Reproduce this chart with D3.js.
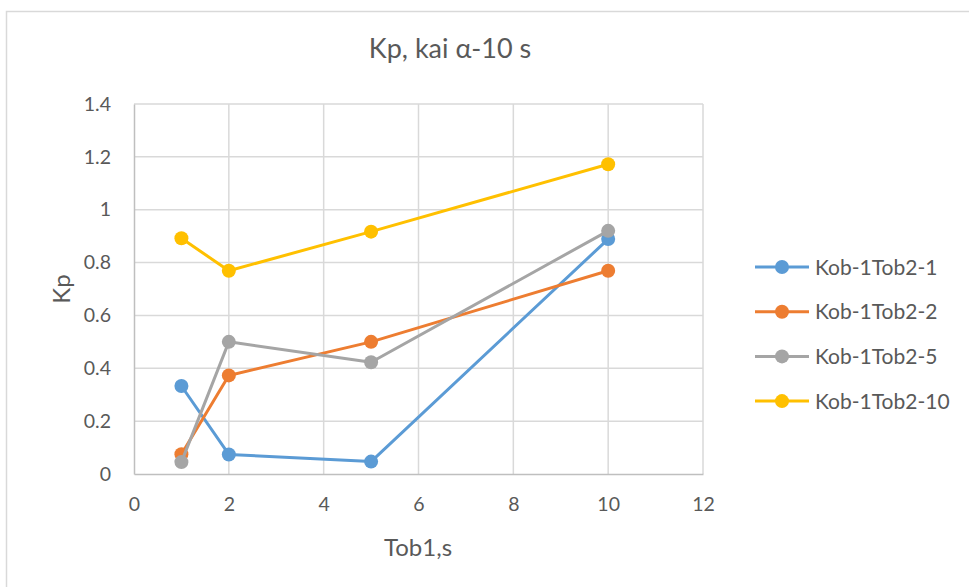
<!DOCTYPE html>
<html>
<head>
<meta charset="utf-8">
<script src="https://cdn.jsdelivr.net/npm/d3@7/dist/d3.min.js"></script>
<style>
  html, body { margin: 0; padding: 0; background: #fff; }
  svg { display: block; font-family: "Lato", "Liberation Sans", sans-serif; }
</style>
</head>
<body>
<svg id="chart" width="969" height="587"></svg>
<script>
// Sampling times (Tob1, s)
const xValues = [1, 2, 5, 10];

// Series names and Kp values at each sampling time
const seriesNames = ["Kob-1Tob2-1", "Kob-1Tob2-2", "Kob-1Tob2-5", "Kob-1Tob2-10"];
const kob1Tob2_1  = [0.333, 0.074, 0.047, 0.889];
const kob1Tob2_2  = [0.075, 0.373, 0.5, 0.769];
const kob1Tob2_5  = [0.045, 0.5, 0.423, 0.92];
const kob1Tob2_10 = [0.892, 0.769, 0.917, 1.172];
const seriesColors = ["#5B9BD5", "#ED7D31", "#A5A5A5", "#FFC000"];

// Axis ticks
const xTicks = [0, 2, 4, 6, 8, 10, 12];
const yTicks = [0, 0.2, 0.4, 0.6, 0.8, 1, 1.2, 1.4];

const series = [kob1Tob2_1, kob1Tob2_2, kob1Tob2_5, kob1Tob2_10].map((vals, i) => ({
  name: seriesNames[i],
  color: seriesColors[i],
  points: vals.map((v, j) => ({ x: xValues[j], y: v }))
}));

const svg = d3.select("#chart");
const textColor = "#595959";

// Outer chart frame
svg.append("rect")
  .attr("x", 6.5).attr("y", 11.5)
  .attr("width", 1000).attr("height", 1000)
  .attr("fill", "#fff")
  .attr("stroke", "#d9d9d9")
  .attr("stroke-width", 1.5);

const plot = { left: 134, right: 703, top: 104, bottom: 474 };

const x = d3.scaleLinear().domain([0, 12]).range([plot.left, plot.right]);
const y = d3.scaleLinear().domain([0, 1.4]).range([plot.bottom, plot.top]);

// Gridlines
const grid = svg.append("g");
grid.selectAll("line.h").data(yTicks.filter(d => d > 0)).join("line")
  .attr("x1", plot.left).attr("x2", plot.right)
  .attr("y1", d => y(d)).attr("y2", d => y(d))
  .attr("stroke", "#d9d9d9").attr("stroke-width", 1.5);
grid.selectAll("line.v").data(xTicks.filter(d => d > 0)).join("line")
  .attr("y1", plot.top).attr("y2", plot.bottom)
  .attr("x1", d => x(d)).attr("x2", d => x(d))
  .attr("stroke", "#d9d9d9").attr("stroke-width", 1.5);

// Axes
const xAxis = svg.append("g")
  .attr("transform", `translate(0,${plot.bottom})`)
  .call(d3.axisBottom(x).tickValues(xTicks).tickSize(0).tickPadding(23).tickFormat(d3.format("d")));
const yAxis = svg.append("g")
  .attr("transform", `translate(${plot.left},0)`)
  .call(d3.axisLeft(y).tickValues(yTicks).tickSize(0).tickPadding(23).tickFormat(d => d3.format("")(+d.toFixed(1))));
[xAxis, yAxis].forEach(a => {
  a.select(".domain").attr("stroke", "#bfbfbf").attr("stroke-width", 1.5);
  a.selectAll("text").attr("fill", textColor).attr("font-size", 19.5)
    .attr("font-family", "Lato, 'Liberation Sans', sans-serif");
});

// Series lines and markers
const line = d3.line().x(d => x(d.x)).y(d => y(d.y));
const sg = svg.append("g").selectAll("g").data(series).join("g");
sg.append("path")
  .attr("d", d => line(d.points))
  .attr("fill", "none")
  .attr("stroke", d => d.color)
  .attr("stroke-width", 3)
  .attr("stroke-linejoin", "round");
sg.selectAll("circle").data(d => d.points.map(p => ({ ...p, color: d.color }))).join("circle")
  .attr("cx", d => x(d.x)).attr("cy", d => y(d.y))
  .attr("r", 7)
  .attr("fill", d => d.color);

// Title
svg.append("text")
  .attr("x", 450).attr("y", 58)
  .attr("text-anchor", "middle")
  .attr("fill", textColor)
  .attr("font-size", 27)
  .text("Kp, kai α-10 s");

// Axis titles
svg.append("text")
  .attr("x", 418).attr("y", 556)
  .attr("text-anchor", "middle")
  .attr("fill", textColor)
  .attr("font-size", 24)
  .text("Tob1,s");
svg.append("text")
  .attr("transform", `translate(70,289) rotate(-90)`)
  .attr("text-anchor", "middle")
  .attr("fill", textColor)
  .attr("font-size", 24)
  .text("Kp");

// Legend
const legend = svg.append("g").selectAll("g").data(series).join("g")
  .attr("transform", (d, i) => `translate(755,${267 + i * 44.7})`);
legend.append("line")
  .attr("x1", 0).attr("x2", 54)
  .attr("stroke", d => d.color).attr("stroke-width", 3);
legend.append("circle")
  .attr("cx", 27).attr("r", 7)
  .attr("fill", d => d.color);
legend.append("text")
  .attr("x", 60).attr("dy", "0.36em")
  .attr("fill", textColor)
  .attr("font-size", 21)
  .text(d => d.name);
</script>
</body>
</html>
